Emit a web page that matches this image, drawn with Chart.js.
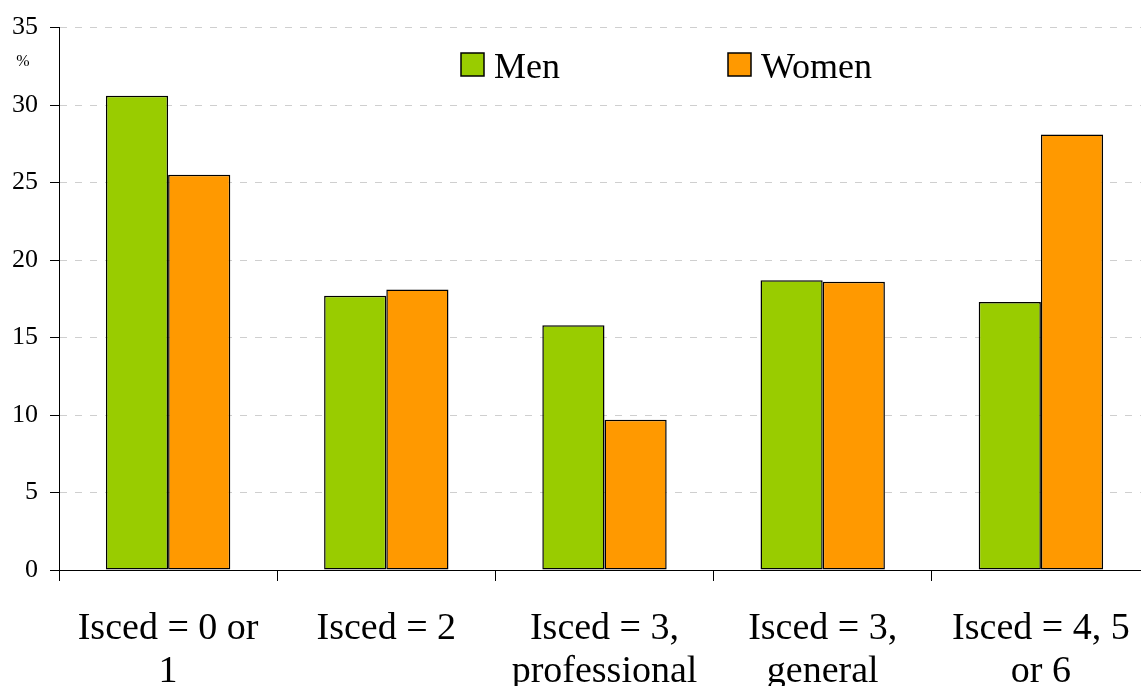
<!DOCTYPE html>
<html>
<head>
<meta charset="utf-8">
<script src="https://cdn.jsdelivr.net/npm/chart.js@4/dist/chart.umd.min.js"></script>
<style>
  html, body { margin: 0; padding: 0; background: #fff; overflow: hidden; }
  #wrap { width: 1150px; height: 686px; }
</style>
</head>
<body>
<div id="wrap"><canvas id="c" width="1150" height="686"></canvas></div>
<script>
// Share of population by education level (ISCED), by sex, in %
const categories = [
  ["Isced = 0 or", "1"],
  ["Isced = 2"],
  ["Isced = 3,", "professional"],
  ["Isced = 3,", "general"],
  ["Isced = 4, 5", "or 6"]
];
const menValues   = [30.6, 17.7, 15.8, 18.7, 17.3];
const womenValues = [25.5, 18.1, 9.7, 18.6, 28.1];
const seriesNames = ["Men", "Women"];
const seriesColors = ["#99CC00", "#FF9900"];
const yTicks = { min: 0, max: 35, step: 5 };
const unitLabel = "%";

const serif = "'Liberation Serif', 'Times New Roman', serif";

// Legend and unit label drawn at fixed spots over the plot
const overlay = {
  id: 'overlay',
  afterDraw(chart) {
    const ctx = chart.ctx;
    ctx.save();
    ctx.font = "16px " + serif;
    ctx.fillStyle = "#000";
    ctx.textAlign = "center";
    ctx.textBaseline = "middle";
    ctx.fillText(unitLabel, 23, 62);

    const boxes = [461, 728];
    chart.data.datasets.forEach((ds, i) => {
      const x = boxes[i];
      ctx.fillStyle = ds.backgroundColor;
      ctx.fillRect(x, 53, 23, 23);
      ctx.strokeStyle = "#000";
      ctx.lineWidth = 1.5;
      ctx.strokeRect(x, 53, 23, 23);
      ctx.fillStyle = "#000";
      ctx.font = "36px " + serif;
      ctx.textAlign = "left";
      ctx.textBaseline = "alphabetic";
      ctx.fillText(ds.label, x + 33, 78);
    });
    ctx.restore();
  }
};

new Chart(document.getElementById('c'), {
  type: 'bar',
  data: {
    labels: categories,
    datasets: [
      { label: seriesNames[0], data: menValues, backgroundColor: seriesColors[0],
        borderColor: "#000", borderWidth: 1.5, borderSkipped: false },
      { label: seriesNames[1], data: womenValues, backgroundColor: seriesColors[1],
        borderColor: "#000", borderWidth: 1.5, borderSkipped: false }
    ]
  },
  options: {
    responsive: false,
    animation: false,
    layout: { padding: { top: 27, left: 0, right: 0, bottom: 0 } },
    plugins: { legend: { display: false }, tooltip: { enabled: false } },
    datasets: { bar: { categoryPercentage: 0.57, barPercentage: 1.0 } },
    scales: {
      x: {
        offset: true,
        grid: { offset: true, drawOnChartArea: false, tickLength: 11, tickColor: "#000", tickWidth: 1 },
        border: { color: "#000", width: 1 },
        ticks: {
          color: "#000",
          font: { family: serif, size: 38, lineHeight: 1.12 },
          padding: 27,
          maxRotation: 0, autoSkip: false
        },
        afterFit(scale) {
          scale.height = 116;
          scale.paddingLeft = 0;
          scale.paddingRight = 0;
        }
      },
      y: {
        min: yTicks.min, max: yTicks.max,
        grid: {
          color: (c) => c.tick && c.tick.value === 0 ? "rgba(0,0,0,0)" : "#cfcfcf",
          lineWidth: 1,
          tickLength: 9, tickColor: "#000", tickWidth: 1, tickBorderDash: []
        },
        border: { color: "#000", width: 1, dash: [7, 8] },
        ticks: {
          stepSize: yTicks.step,
          color: "#000",
          font: { family: serif, size: 26 },
          padding: 12
        },
        afterFit(scale) { scale.width = 59; }
      }
    }
  },
  plugins: [overlay]
});
</script>
</body>
</html>
